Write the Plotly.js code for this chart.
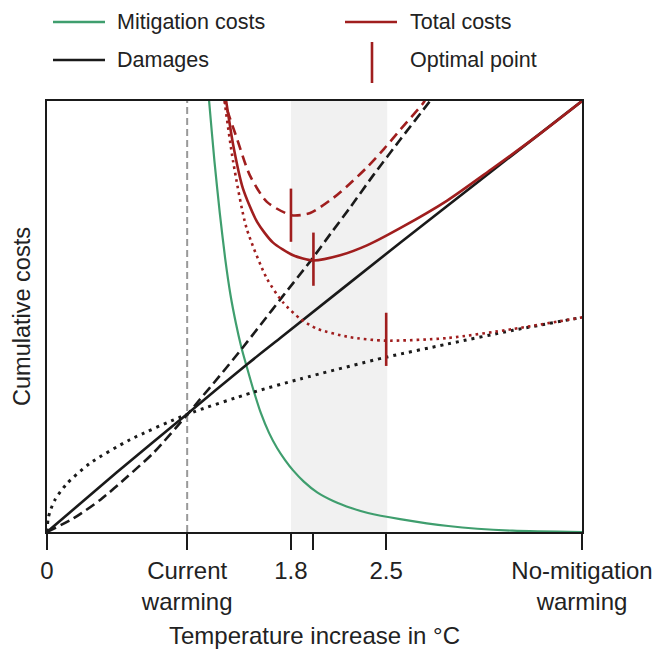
<!DOCTYPE html>
<html>
<head>
<meta charset="utf-8">
<script src="https://cdn.plot.ly/plotly-3.0.1.min.js"></script>
<style>
html,body{margin:0;padding:0;background:#fff;}
#chart{width:668px;height:649px;}
</style>
</head>
<body>
<div id="chart"></div>
<script>
// Schematic x scale: 0 = no warming, 100 = no-mitigation warming
var tickVals = [0, 26.2, 45.6, 49.8, 63.4, 100];
var tickText = ['0', 'Current<br>warming', '1.8', '', '2.5', 'No-mitigation<br>warming'];
var currentWarming = 26.2;
var bandRange = [45.6, 63.6];   // 1.8 .. 2.5 degC

// Mitigation costs (green)
var mitX = [29.6, 30.3, 31.3, 32.3, 33.3, 34.3, 35.3, 36.3, 37.3, 38.5, 40.0, 41.5, 43.0, 44.5, 46.0, 48.0, 50.5, 53.5, 57.0, 60.0, 66.0, 75.0, 87.0, 100];
var mitY = [110, 100, 86, 74, 63.5, 55, 48.5, 43, 38.5, 33.3, 27.5, 23, 19.5, 16.7, 14.3, 11.7, 9.2, 7.2, 5.5, 4.4, 3.0, 1.4, 0.3, 0];

// Damages, solid (black)
var dmgX = [0, 13, 26.2, 37.3, 43.6, 65.9, 83, 100];
var dmgY = [0, 13.8, 27.4, 38.8, 45.0, 67.0, 83.6, 100];

// Damages, dashed (black)
var dmgDashX = [0, 5, 10, 15, 20, 26.2, 28.6, 32, 36.4, 40, 44, 49.2, 53, 56.6, 61, 66, 71.6, 73];
var dmgDashY = [0, 3.2, 7.5, 12.8, 18.5, 27.2, 30.8, 35.8, 42.5, 48.2, 54.6, 62.8, 69.2, 75.2, 82.8, 91.0, 100, 102.3];

// Damages, dotted (black)
var dmgDotX = [0, 0.2, 0.6, 1.5, 3.7, 8, 15.5, 26.2, 38.5, 47.3, 63.2, 74.8, 87.1, 100];
var dmgDotY = [0, 3.0, 4.9, 7.5, 11.2, 15.9, 21.4, 27.3, 32.4, 35.5, 40.5, 43.6, 46.8, 49.8];

// Total costs, solid (red)
var totX = [33.3, 33.6, 34.8, 36.6, 39.3, 42.2, 46.0, 49.7, 54.8, 59.8, 66.0, 74.8, 83.0, 91.5, 100];
var totY = [101.5, 99.1, 89.8, 79.8, 71.9, 67.2, 64.2, 63.0, 64.2, 66.5, 70.5, 76.9, 84.1, 91.8, 100];

// Total costs, dashed (red)
var totDashX = [33.1, 33.3, 35.5, 37.9, 41.1, 45.7, 49.2, 53.5, 56.6, 59.8, 63.0, 66.0, 70.3, 70.8];
var totDashY = [101.5, 99.5, 91.3, 82.8, 76.6, 73.5, 74.0, 77.5, 80.8, 84.6, 88.9, 93.3, 99.5, 100.5];

// Total costs, dotted (red)
var totDotX = [33.1, 33.3, 34.8, 37.3, 41.1, 44.1, 47.3, 50.4, 56.6, 63.2, 74.8, 87.1, 100];
var totDotY = [101.5, 99, 85.9, 70.5, 58.8, 53.3, 49.5, 47.2, 45.2, 44.4, 45.0, 47.1, 49.8];

// Optimal points (dashed, solid, dotted scenario)
var optX = [45.6, 49.8, 63.4];
var optY = [73.5, 63.3, 44.7];

var RED = '#a01e1e', GREEN = '#3f9e6e', BLACK = '#1a1a1a';
var FONT = 'Liberation Sans, Arial, Helvetica, sans-serif';

function tr(x, y, color, width, dash) {
  return {x: x, y: y, mode: 'lines', type: 'scatter', showlegend: false,
    line: {color: color, width: width, dash: dash, shape: 'spline', smoothing: 0.7},
    hoverinfo: 'skip'};
}

var data = [
  tr(mitX, mitY, GREEN, 2.2, 'solid'),
  tr(dmgDotX, dmgDotY, BLACK, 3, '3px,5px'),
  tr(dmgDashX, dmgDashY, BLACK, 2.6, '10px,5px'),
  tr(dmgX, dmgY, BLACK, 2.6, 'solid'),
  tr(totDotX, totDotY, RED, 2.6, '2.6px,4px'),
  tr(totDashX, totDashY, RED, 2.6, '10px,6px'),
  tr(totX, totY, RED, 2.6, 'solid'),
  {x: optX, y: optY, mode: 'markers', type: 'scatter', showlegend: false,
   marker: {symbol: 'line-ns', size: 38, color: RED, line: {color: RED, width: 2.6}},
   cliponaxis: false, hoverinfo: 'skip'}
];

function px2x(px) { return (px - 47) / 535; }
function px2y(py) { return (532 - py) / 431; }

var shapes = [
  {type: 'rect', xref: 'x', yref: 'paper', x0: bandRange[0], x1: bandRange[1], y0: 0, y1: 1,
   fillcolor: '#f1f1f1', line: {width: 0}, layer: 'below'},
  {type: 'line', xref: 'x', yref: 'paper', x0: currentWarming, x1: currentWarming, y0: 0, y1: 1,
   line: {color: '#999999', width: 2, dash: '7px,4px'}, layer: 'below'},
  // legend symbols
  {type: 'line', xref: 'paper', yref: 'paper', x0: px2x(53), x1: px2x(105), y0: px2y(22), y1: px2y(22),
   line: {color: GREEN, width: 2.6}},
  {type: 'line', xref: 'paper', yref: 'paper', x0: px2x(53), x1: px2x(105), y0: px2y(60), y1: px2y(60),
   line: {color: BLACK, width: 2.6}},
  {type: 'line', xref: 'paper', yref: 'paper', x0: px2x(345), x1: px2x(397), y0: px2y(22), y1: px2y(22),
   line: {color: RED, width: 2.6}},
  {type: 'line', xref: 'paper', yref: 'paper', x0: px2x(372), x1: px2x(372), y0: px2y(42), y1: px2y(83),
   line: {color: RED, width: 2.6}}
];

function lab(text, pxX, pxY) {
  return {text: text, xref: 'paper', yref: 'paper', x: px2x(pxX), y: px2y(pxY),
    xanchor: 'left', yanchor: 'middle', showarrow: false,
    font: {family: FONT, size: 21.5, color: '#222'}};
}
var annotations = [
  lab('Mitigation costs', 115, 22),
  lab('Damages', 115, 60),
  lab('Total costs', 408, 22),
  lab('Optimal point', 408, 60)
];

var layout = {
  width: 668, height: 649,
  margin: {l: 47, r: 86, t: 101, b: 117},
  paper_bgcolor: '#fff', plot_bgcolor: 'rgba(0,0,0,0)',
  font: {family: FONT, color: '#222'},
  xaxis: {
    range: [0, 100], showgrid: false, zeroline: false,
    showline: true, mirror: true, linecolor: BLACK, linewidth: 2,
    ticks: 'outside', ticklen: 16, tickwidth: 2, tickcolor: BLACK,
    tickmode: 'array', tickvals: tickVals, ticktext: tickText,
    tickfont: {family: FONT, size: 24, color: '#222'},
    title: {text: 'Temperature increase in °C', font: {family: FONT, size: 24, color: '#222'}, standoff: 14}
  },
  yaxis: {
    range: [0, 100], showgrid: false, zeroline: false,
    showline: true, mirror: true, linecolor: BLACK, linewidth: 2,
    ticks: '', showticklabels: false,
    title: {text: 'Cumulative costs', font: {family: FONT, size: 23.5, color: '#222'}, standoff: 8}
  },
  shapes: shapes,
  annotations: annotations,
  showlegend: false
};

Plotly.newPlot('chart', data, layout, {staticPlot: true, displayModeBar: false});
</script>
</body>
</html>
